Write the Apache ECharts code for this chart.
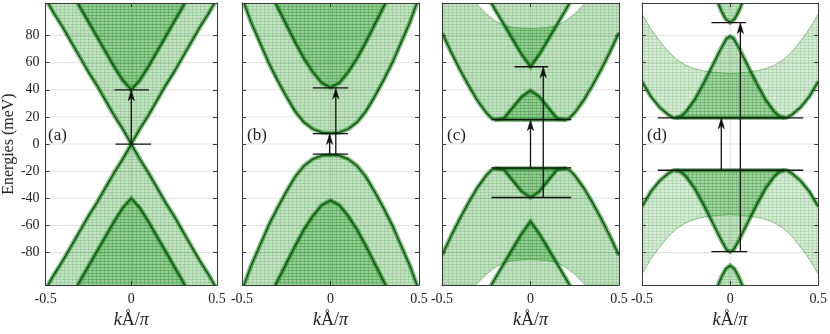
<!DOCTYPE html>
<html><head><meta charset="utf-8">
<script src="https://cdn.jsdelivr.net/npm/echarts@6/dist/echarts.min.js"></script>
<style>html,body{margin:0;padding:0;background:#fff}#c{width:830px;height:334px}</style>
</head><body><div id="c"></div>
<script>
// ---------------- data ----------------
const panelLabels = ['(a)', '(b)', '(c)', '(d)'];
const yTicks = [-80, -60, -40, -20, 0, 20, 40, 60, 80];
const kRange = [-0.5, 0.5];
const eRange = [-104, 104];

// panel (a): band edges [k, E]
const aCond1 = [[-0.5,107],[-0.45,96],[-0.4,86],[-0.35,75],[-0.3,64],[-0.25,53],[-0.2,43],[-0.15,32],[-0.1,21],[-0.05,11],[0,0],[0.05,11],[0.1,21],[0.15,32],[0.2,43],[0.25,53],[0.3,64],[0.35,75],[0.4,86],[0.45,96],[0.5,107]];
const aCond2 = [[-0.32,106],[-0.3,101],[-0.25,90],[-0.2,79],[-0.15,68],[-0.1,57],[-0.05,47],[0,40],[0.05,47],[0.1,57],[0.15,68],[0.2,79],[0.25,90],[0.3,101],[0.32,106]];
const aVal1 = [[-0.5,-107],[-0.45,-96],[-0.4,-86],[-0.35,-75],[-0.3,-64],[-0.25,-53],[-0.2,-43],[-0.15,-32],[-0.1,-21],[-0.05,-11],[0,0],[0.05,-11],[0.1,-21],[0.15,-32],[0.2,-43],[0.25,-53],[0.3,-64],[0.35,-75],[0.4,-86],[0.45,-96],[0.5,-107]];
const aVal2 = [[-0.32,-106],[-0.3,-101],[-0.25,-90],[-0.2,-79],[-0.15,-68],[-0.1,-57],[-0.05,-47],[0,-40],[0.05,-47],[0.1,-57],[0.15,-68],[0.2,-79],[0.25,-90],[0.3,-101],[0.32,-106]];
const aMarkers = [[-0.098,0.103,40],[-0.092,0.115,0]];      // [kFrom, kTo, E]
const aArrows = [[0,0,40]];                                   // [k, Efrom, Eto]

// panel (b)
const bCond1 = [[-0.5,108],[-0.45,90],[-0.4,75],[-0.35,60],[-0.3,47],[-0.25,35],[-0.2,24],[-0.15,16],[-0.1,11],[-0.05,8.5],[0,8],[0.05,8.5],[0.1,11],[0.15,16],[0.2,24],[0.25,35],[0.3,47],[0.35,60],[0.4,75],[0.45,90],[0.5,108]];
const bCond2 = [[-0.315,105],[-0.3,101],[-0.25,88],[-0.2,75],[-0.15,63],[-0.1,53],[-0.05,45],[0,41.5],[0.05,45],[0.1,53],[0.15,63],[0.2,75],[0.25,88],[0.3,101],[0.315,105]];
const bVal1 = [[-0.5,-108],[-0.45,-90],[-0.4,-75],[-0.35,-60],[-0.3,-47],[-0.25,-35],[-0.2,-24],[-0.15,-16],[-0.1,-11],[-0.05,-8.5],[0,-8],[0.05,-8.5],[0.1,-11],[0.15,-16],[0.2,-24],[0.25,-35],[0.3,-47],[0.35,-60],[0.4,-75],[0.45,-90],[0.5,-108]];
const bVal2 = [[-0.315,-105],[-0.3,-101],[-0.25,-88],[-0.2,-75],[-0.15,-63],[-0.1,-53],[-0.05,-45],[0,-41.5],[0.05,-45],[0.1,-53],[0.15,-63],[0.2,-75],[0.25,-88],[0.3,-101],[0.315,-105]];
const bMarkers = [[-0.1,0.1,41.4],[-0.1,0.1,7.7],[-0.1,0.1,-7.5]];
const bArrows = [[-0.005,-7.5,7.7],[0.03,-7.5,41.4]];

// panel (c)
const cCond1Outer = [[-0.5,82],[-0.45,68],[-0.4,55],[-0.35,43],[-0.3,32],[-0.25,23],[-0.22,19],[-0.2,18],[0.2,18],[0.22,19],[0.25,23],[0.3,32],[0.35,43],[0.4,55],[0.45,68],[0.5,82]];
const cCond1Top = [[-0.5,104],[-0.31,104],[-0.25,96],[-0.2,91],[-0.15,87.5],[-0.1,86],[0,85],[0.1,86],[0.15,87.5],[0.2,91],[0.25,96],[0.31,104],[0.5,104]];
const cCond1Hump = [[-0.2,18],[-0.15,19],[-0.1,27],[-0.05,35],[0,39.5],[0.05,35],[0.1,27],[0.15,19],[0.2,18]];
const cCond2 = [[-0.23,106],[-0.2,99],[-0.15,88],[-0.1,77],[-0.05,66],[0,57],[0.05,66],[0.1,77],[0.15,88],[0.2,99],[0.23,106]];
const cVal1Outer = [[-0.5,-82],[-0.45,-68],[-0.4,-55],[-0.35,-43],[-0.3,-32],[-0.25,-23],[-0.22,-19],[-0.2,-18],[0.2,-18],[0.22,-19],[0.25,-23],[0.3,-32],[0.35,-43],[0.4,-55],[0.45,-68],[0.5,-82]];
const cVal1Bottom = [[-0.5,-104],[-0.31,-104],[-0.25,-96],[-0.2,-91],[-0.15,-87.5],[-0.1,-86],[0,-85],[0.1,-86],[0.15,-87.5],[0.2,-91],[0.25,-96],[0.31,-104],[0.5,-104]];
const cVal1Dip = [[-0.2,-18],[-0.15,-19],[-0.1,-27],[-0.05,-35],[0,-39.5],[0.05,-35],[0.1,-27],[0.15,-19],[0.2,-18]];
const cVal2 = [[-0.23,-106],[-0.2,-99],[-0.15,-88],[-0.1,-77],[-0.05,-66],[0,-57],[0.05,-66],[0.1,-77],[0.15,-88],[0.2,-99],[0.23,-106]];
const cMarkers = [[-0.22,0.23,18],[-0.09,0.1,57],[-0.22,0.23,-17.6],[-0.22,0.23,-39.4]];
const cArrows = [[0,-17.6,18],[0.072,-39.4,57]];

// panel (d)
const dCond1Outer = [[-0.5,46],[-0.45,35],[-0.4,27],[-0.35,21.5],[-0.32,19.3],[0.32,19.3],[0.35,21.5],[0.4,27],[0.45,35],[0.5,46]];
const dCond1Top = [[-0.5,96],[-0.45,85],[-0.4,76],[-0.35,68],[-0.3,62],[-0.25,58],[-0.2,55.5],[-0.15,54],[-0.1,53],[0,52],[0.1,53],[0.15,54],[0.2,55.5],[0.25,58],[0.3,62],[0.35,68],[0.4,76],[0.45,85],[0.5,96]];
const dCond1Peak = [[-0.31,19.3],[-0.28,20.5],[-0.25,24],[-0.2,33],[-0.15,45],[-0.1,58],[-0.05,71],[-0.02,78],[0,79.5],[0.02,78],[0.05,71],[0.1,58],[0.15,45],[0.2,33],[0.25,24],[0.28,20.5],[0.31,19.3]];
const dCond2 = [[-0.075,106],[-0.05,98],[-0.025,92],[0,89.5],[0.025,92],[0.05,98],[0.075,106]];
const dVal1Outer = [[-0.5,-46],[-0.45,-35],[-0.4,-27],[-0.35,-21.5],[-0.32,-19.3],[0.32,-19.3],[0.35,-21.5],[0.4,-27],[0.45,-35],[0.5,-46]];
const dVal1Bottom = [[-0.5,-96],[-0.45,-85],[-0.4,-76],[-0.35,-68],[-0.3,-62],[-0.25,-58],[-0.2,-55.5],[-0.15,-54],[-0.1,-53],[0,-52],[0.1,-53],[0.15,-54],[0.2,-55.5],[0.25,-58],[0.3,-62],[0.35,-68],[0.4,-76],[0.45,-85],[0.5,-96]];
const dVal1Dip = [[-0.31,-19.3],[-0.28,-20.5],[-0.25,-24],[-0.2,-33],[-0.15,-45],[-0.1,-58],[-0.05,-71],[-0.02,-78],[0,-79.5],[0.02,-78],[0.05,-71],[0.1,-58],[0.15,-45],[0.2,-33],[0.25,-24],[0.28,-20.5],[0.31,-19.3]];
const dVal2 = [[-0.075,-106],[-0.05,-98],[-0.025,-92],[0,-89.5],[0.025,-92],[0.05,-98],[0.075,-106]];
const dMarkers = [[-0.106,0.09,89.5],[-0.41,0.415,19.3],[-0.41,0.415,-19.3],[-0.106,0.097,-79.3]];
const dArrows = [[-0.05,-19.3,19.3],[0.058,-79.3,89.5]];

// ---------------- band assembly ----------------
const panelBands = [
  [{curve:aCond1,to:'top'},{curve:aCond2,to:'top'},{curve:aVal1,to:'bottom'},{curve:aVal2,to:'bottom'}],
  [{curve:bCond1,to:'top'},{curve:bCond2,to:'top'},{curve:bVal1,to:'bottom'},{curve:bVal2,to:'bottom'}],
  [{lower:cCond1Outer,upper:cCond1Top,dark:[cCond1Outer],light:[cCond1Top]},
   {closed:cCond1Hump},
   {curve:cCond2,to:'top'},
   {lower:cVal1Bottom,upper:cVal1Outer,dark:[cVal1Outer],light:[cVal1Bottom]},
   {closed:cVal1Dip},
   {curve:cVal2,to:'bottom'}],
  [{lower:dCond1Outer,upper:dCond1Top,dark:[dCond1Outer],light:[dCond1Top],sparse:true},
   {closed:dCond1Peak},
   {curve:dCond2,to:'top'},
   {lower:dVal1Bottom,upper:dVal1Outer,dark:[dVal1Outer],light:[dVal1Bottom],sparse:true},
   {closed:dVal1Dip},
   {curve:dVal2,to:'bottom'}]
];
const panelMarkers = [aMarkers, bMarkers, cMarkers, dMarkers];
const panelArrows = [aArrows, bArrows, cArrows, dArrows];

// ---------------- layout & style ----------------
const FONT = 'Liberation Serif';
const gridLefts = [43, 242, 442, 642];
const gridWidths = [174, 177, 177, 177];
const gridTop = 3, gridHeight = 290;

function makePattern(base, line) {
  const c = document.createElement('canvas');
  c.width = 4; c.height = 3;
  const g = c.getContext('2d');
  g.fillStyle = 'rgba(0,128,0,' + base + ')'; g.fillRect(0, 0, 4, 3);
  g.fillStyle = 'rgba(0,128,0,' + line + ')'; g.fillRect(0, 0, 4, 1);
  g.fillStyle = 'rgba(0,128,0,0.10)'; g.fillRect(0, 0, 1, 3);
  return c;
}
const bandFill = { image: makePattern(0.24, 0.16), repeat: 'repeat' };
const sparseFill = { image: makePattern(0.17, 0.12), repeat: 'repeat' };

function clipRect(cs) { return { type: 'rect', shape: { x: cs.x, y: cs.y, width: cs.width, height: cs.height } }; }

function bandRenderer(bands) {
  return function (params, api) {
    const b = bands[params.dataIndex];
    const P = p => api.coord(p);
    let poly, dark = [], light = [];
    if (b.curve) {
      const far = b.to === 'top' ? eRange[1] * 1.5 : eRange[0] * 1.5;
      const c = b.curve;
      poly = c.map(P).concat([P([c[c.length - 1][0], far]), P([c[0][0], far])]);
      dark = [c];
    } else if (b.lower) {
      poly = b.lower.map(P).concat(b.upper.slice().reverse().map(P));
      dark = b.dark; light = b.light;
    } else {
      poly = b.closed.map(P);
      dark = [b.closed];
    }
    const children = [{ type: 'polygon', shape: { points: poly }, style: { fill: b.sparse ? sparseFill : bandFill, stroke: null } }];
    light.forEach(c => children.push({ type: 'polyline', shape: { points: c.map(P) }, style: { stroke: 'rgba(0,128,0,0.4)', lineWidth: 1, fill: null } }));
    dark.forEach(c => {
      children.push({ type: 'polyline', shape: { points: c.map(P) }, style: { stroke: 'rgba(0,105,0,0.45)', lineWidth: 4.5, fill: null } });
      children.push({ type: 'polyline', shape: { points: c.map(P) }, style: { stroke: '#085e08', lineWidth: 1.5, fill: null } });
    });
    return { type: 'group', children, clipPath: clipRect(params.coordSys) };
  };
}

function gridRenderer(params, api) {
  const v = api.value(1), isV = api.value(0) === 1;
  const p1 = isV ? api.coord([0, eRange[0]]) : api.coord([kRange[0], v]);
  const p2 = isV ? api.coord([0, eRange[1]]) : api.coord([kRange[1], v]);
  return { type: 'line', shape: { x1: p1[0], y1: p1[1], x2: p2[0], y2: p2[1] }, style: { stroke: '#e3e3e3', lineWidth: 1 } };
}

function annotRenderer(markers, arrows) {
  return function (params, api) {
    const i = params.dataIndex;
    if (i < markers.length) {
      const m = markers[i];
      const a = api.coord([m[0], m[2]]), b = api.coord([m[1], m[2]]);
      return { type: 'line', shape: { x1: a[0], y1: a[1], x2: b[0], y2: b[1] }, style: { stroke: '#111', lineWidth: 1.3 } };
    }
    const r = arrows[i - markers.length];
    const s = api.coord([r[0], r[1]]), t = api.coord([r[0], r[2]]);
    const dir = t[1] < s[1] ? 1 : -1;   // 1 = pointing up
    const L = 11, H = 3.2;
    const head = [[t[0], t[1]], [t[0] - H, t[1] + dir * L], [t[0], t[1] + dir * (L - 3)], [t[0] + H, t[1] + dir * L]];
    return { type: 'group', children: [
      { type: 'line', shape: { x1: s[0], y1: s[1], x2: t[0], y2: t[1] + dir * (L - 3) }, style: { stroke: '#111', lineWidth: 1.3 } },
      { type: 'polygon', shape: { points: head }, style: { fill: '#111', stroke: '#111', lineWidth: 0.5 } }
    ] };
  };
}

const grids = [], xAxes = [], yAxes = [], series = [], graphics = [];
const axisLineStyle = { color: '#3a3a3a', width: 1 };
for (let i = 0; i < 4; i++) {
  grids.push({ left: gridLefts[i], top: gridTop, width: gridWidths[i], height: gridHeight });
  xAxes.push({
    type: 'value', gridIndex: i, min: kRange[0], max: kRange[1], interval: 0.5, position: 'bottom', z: 10,
    axisLine: { show: true, onZero: false, lineStyle: axisLineStyle },
    axisTick: { show: true, inside: true, length: 4, lineStyle: axisLineStyle },
    axisLabel: { show: true, fontFamily: FONT, fontSize: 14, color: '#222', margin: 7, showMinLabel: true, showMaxLabel: true },
    splitLine: { show: false },
    name: '{i|k}Å/{i|π}', nameLocation: 'middle', nameGap: 15,
    nameTextStyle: { fontFamily: FONT, fontSize: 18, color: '#222', rich: { i: { fontFamily: FONT, fontSize: 18, fontStyle: 'italic', color: '#222' } } }
  });
  xAxes.push({
    type: 'value', gridIndex: i, min: kRange[0], max: kRange[1], interval: 0.5, position: 'top', z: 10,
    axisLine: { show: true, onZero: false, lineStyle: axisLineStyle },
    axisTick: { show: true, inside: true, length: 4, lineStyle: axisLineStyle },
    axisLabel: { show: false }, splitLine: { show: false }
  });
  const yBase = {
    type: 'value', gridIndex: i, min: eRange[0], max: eRange[1], z: 10,
    axisLine: { show: true, onZero: false, lineStyle: axisLineStyle },
    axisTick: { show: true, inside: true, length: 4, lineStyle: axisLineStyle, customValues: yTicks },
    splitLine: { show: false }
  };
  yAxes.push(Object.assign({}, yBase, {
    position: 'left',
    axisLabel: { show: i === 0, customValues: yTicks, fontFamily: FONT, fontSize: 14, color: '#222', margin: 6 },
    name: i === 0 ? 'Energies (meV)' : '', nameLocation: 'middle', nameGap: 27, nameRotate: 90,
    nameTextStyle: { fontFamily: FONT, fontSize: 16, color: '#222' }
  }));
  yAxes.push(Object.assign({}, yBase, { position: 'right', axisLabel: { show: false } }));

  const gridData = yTicks.map(v => [0, v]).concat([[1, 0]]);
  series.push({ type: 'custom', xAxisIndex: 2 * i, yAxisIndex: 2 * i, z: 1, silent: true,
    renderItem: gridRenderer, data: gridData, clip: true });
  series.push({ type: 'custom', xAxisIndex: 2 * i, yAxisIndex: 2 * i, z: 2, silent: true,
    renderItem: bandRenderer(panelBands[i]), data: panelBands[i].map(() => [0, 0]), clip: true });
  const nA = panelMarkers[i].length + panelArrows[i].length;
  series.push({ type: 'custom', xAxisIndex: 2 * i, yAxisIndex: 2 * i, z: 5, silent: true,
    renderItem: annotRenderer(panelMarkers[i], panelArrows[i]), data: Array.from({ length: nA }, () => [0, 0]) });
  graphics.push({ type: 'text', left: gridLefts[i] + 5, top: 127, z: 20,
    style: { text: panelLabels[i], fontFamily: FONT, fontSize: 17, fill: '#222' } });
}

const chart = echarts.init(document.getElementById('c'), null, { renderer: 'canvas' });
chart.setOption({
  animation: false,
  backgroundColor: '#fff',
  grid: grids, xAxis: xAxes, yAxis: yAxes, series: series, graphic: graphics
});
</script></body></html>
